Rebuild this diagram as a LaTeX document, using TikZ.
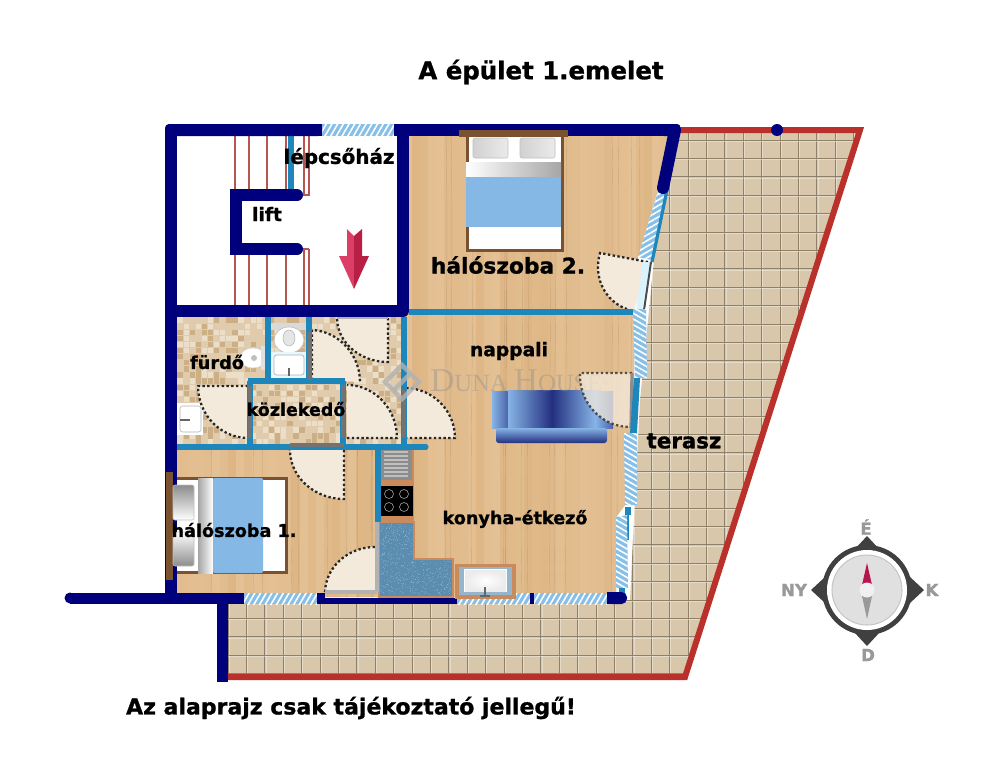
\documentclass[tikz,border=0pt]{standalone}
\usepackage{fontspec}
\setmainfont{DejaVu Sans}[BoldFeatures={FakeBold=1.1}]
\newfontfamily\wmfont{Liberation Serif}
\usetikzlibrary{calc,patterns.meta}
\definecolor{navywall}{HTML}{00007C}
\definecolor{bluewall}{HTML}{1D87BC}
\definecolor{redline}{HTML}{B9312A}
\definecolor{woodbase}{HTML}{DEB685}
\definecolor{woodlight}{HTML}{E8C9A0}
\definecolor{terrbase}{HTML}{D9C7AB}
\definecolor{terrline}{HTML}{8F8168}
\definecolor{tilebase}{HTML}{E0CCAC}
\definecolor{tiletan}{HTML}{CDAF85}
\definecolor{tilelight}{HTML}{EBDFCA}
\definecolor{winblue}{HTML}{86BFE8}
\definecolor{doorcream}{HTML}{F4EADC}
\definecolor{bedbrown}{HTML}{7A5230}
\definecolor{bedblue}{HTML}{85B8E5}
\definecolor{kitorange}{HTML}{C98A5C}
\definecolor{kitblue}{HTML}{5A8DB0}
\definecolor{stairred}{HTML}{B5574F}
\definecolor{compassdark}{HTML}{404040}
\definecolor{compassgray}{HTML}{999999}
\definecolor{needlered}{HTML}{B8144F}
\definecolor{sofalight}{HTML}{86B4E6}
\definecolor{sofadark}{HTML}{232F7F}
\definecolor{arrowlight}{HTML}{DC3E68}
\definecolor{arrowdark}{HTML}{B81F45}
\newcommand\fsz[1]{\fontsize{#1}{#1}\selectfont\bfseries}
\newcommand\hwin[2]{\path[preaction={fill=winblue},pattern={Lines[angle=#2,distance=3.7pt,line width=1.2pt]},pattern color=white] #1;}
\newcommand\doorshape[3]{\fill[doorcream] #1 -- #2 .. controls ($#2+0.55*#3-0.55*#1$) and ($#3+0.55*#2-0.55*#1$) .. #3 -- cycle;}
\newcommand\doorleaf[3]{\doorshape{#1}{#2}{#3}\draw[doordots] #1 -- #2 .. controls ($#2+0.55*#3-0.55*#1$) and ($#3+0.55*#2-0.55*#1$) .. #3;}
\newcommand\doorarc[3]{\doorshape{#1}{#2}{#3}\draw[doordots] #2 .. controls ($#2+0.55*#3-0.55*#1$) and ($#3+0.55*#2-0.55*#1$) .. #3;}
\tikzset{
  nwall/.style={draw=navywall,line width=9pt},
  bwall/.style={draw=bluewall,line width=3.8pt},
  doordots/.style={draw=black!85,line width=1.7pt,dash pattern=on 1.8pt off 1.8pt},
  stairline/.style={draw=stairred,line width=1.1pt},
  grayedge/.style={draw=black!55,line width=2.6pt},
  lilacedge/.style={draw=black!30!white,line width=2.6pt},
  lbl/.style={inner sep=0pt,text=black},
  compasslbl/.style={inner sep=0pt,text=compassgray,font=\fsz{12.5}},
}
\begin{document}
\begin{tikzpicture}[x=0.75pt,y=-0.75pt]
\useasboundingbox (0,0) rectangle (987,768);
\fill[white] (0,0) rectangle (987,768);
\pgfmathsetseed{4217}
% terrace
\begin{scope}
\clip (680,130) -- (860,130) -- (685,677) -- (228,677) -- (228,600) -- (630,600) -- (640,400) -- (660,200) -- cycle;
\fill[terrbase] (200,120) rectangle (880,690);
\foreach \k in {-26,...,10}{
  \pgfmathsetmacro\gx{688+18.4*\k}
  \draw[terrline,line width=0.7pt] (\gx,120) -- (\gx,690);
  \draw[white,opacity=.35,line width=0.5pt] (\gx+1.2,120) -- (\gx+1.2,690);
}
\foreach \k in {0,...,30}{
  \pgfmathsetmacro\gy{140+18.4*\k}
  \draw[terrline,line width=0.7pt] (200,\gy) -- (880,\gy);
  \draw[white,opacity=.35,line width=0.5pt] (200,\gy+1.2) -- (880,\gy+1.2);
}
\end{scope}
\draw[redline,line width=4.5pt,line join=miter] (680,130) -- (860,130) -- (685,677) -- (228,677);
% wood floor
\begin{scope}
\clip (405,136) -- (668,136) -- (660,183) -- (638,257) -- (634,310) -- (634,378) -- (632,433) -- (625,433) -- (625,505) -- (616,517) -- (616,597) -- (177,597) -- (177,445) -- (405,445) -- cycle;
\fill[woodbase] (170,130) rectangle (680,600);
\foreach \i in {0,...,63}{
  \pgfmathrandominteger{\rr}{0}{60}
  \pgfmathsetmacro\wx{172+8*\i}
  \fill[woodlight!\rr!woodbase] (\wx,130) rectangle (\wx+8,600);
}
\foreach \i in {0,...,30}{
  \pgfmathrandominteger{\wx}{175}{670}
  \draw[black!25!woodbase,line width=0.3pt,opacity=.4] (\wx,130) .. controls (\wx+3,300) and (\wx-3,450) .. (\wx,600);
}
\end{scope}
% bathroom tiles
\fill[tilebase] (177,317) rectangle (403,445);
\foreach \i in {0,...,36}{
  \foreach \j in {0,...,20}{
    \pgfmathrandominteger{\rr}{0}{9}
    \pgfmathsetmacro\tx{177+6.1*\i}
    \pgfmathsetmacro\ty{317+6.1*\j}
    \ifnum\rr<3\relax
      \fill[tiletan] (\tx+.4,\ty+.4) rectangle (\tx+5.7,\ty+5.7);
    \else\ifnum\rr<6\relax
      \fill[tilelight] (\tx+.4,\ty+.4) rectangle (\tx+5.7,\ty+5.7);
    \fi\fi
  }
}
% stairs
\foreach \sx in {235,249,267,286,304,309}{
  \draw[stairline] (\sx,136) -- (\sx,196);
  \draw[stairline] (\sx,249) -- (\sx,305);
}
\draw[stairline] (297,195) -- (309,195);
\draw[stairline] (297,249) -- (309,249);
\draw[bluewall,line width=3.8pt] (291,136) -- (291,190);
% red arrow
\fill[arrowlight] (347,229) -- (354,236) -- (354,289) -- (339,256) -- (347,256) -- cycle;
\fill[arrowdark] (362,229) -- (354,236) -- (354,289) -- (369,256) -- (362,256) -- cycle;
% bed 2
\fill[bedbrown] (465.5,137) rectangle (564,252);
\fill[white] (469,137) rectangle (561,249);
\draw[rounded corners=1.5pt,left color=black!18,right color=black!8,draw=black!25,line width=.4pt] (473,138) rectangle (508,158);
\draw[rounded corners=1.5pt,left color=black!18,right color=black!8,draw=black!25,line width=.4pt] (520,138) rectangle (555,158);
\shade[left color=white,right color=black!35] (466,162) rectangle (561,177);
\fill[bedblue] (466,177) rectangle (561,227);
% bed 1
\fill[bedbrown] (173,476.5) rectangle (288,574);
\fill[white] (177,480) rectangle (285,571);
\shade[left color=black!35,right color=white] (198,478) rectangle (213,573);
\fill[bedblue,rounded corners=1pt] (213,478) rectangle (263,573);
% kitchen
\fill[kitorange] (377,447) rectangle (414,482);
\fill[black!45] (380,450) rectangle (412,480);
\foreach \sy in {452,456,...,476}{\draw[black!25,line width=1pt] (384,\sy) -- (408,\sy);}
\fill[kitorange] (376,482) rectangle (414,522);
\fill[black] (381,486) rectangle (413,516);
\foreach \cx/\cy in {389/494,404/494,389/507,404/507}{\draw[white!70!black,line width=.4pt] (\cx,\cy) circle (4.5);}
\draw[kitorange,fill=kitblue,line width=2pt] (379,522) -- (414,522) -- (414,559) -- (453,559) -- (453,597) -- (379,597) -- cycle;
\begin{scope}
\clip (381,524) -- (412,524) -- (412,561) -- (451,561) -- (451,595) -- (381,595) -- cycle;
\foreach \i in {1,...,700}{
  \pgfmathrandominteger{\px}{381}{451}
  \pgfmathrandominteger{\py}{524}{595}
  \fill[white,opacity=.18] (\px,\py) rectangle (\px+1,\py+1);
}
\end{scope}
% bath fixtures
\fill[black!15] (272,323) rectangle (306,330);
\draw[fill=white,draw=black!25,line width=.5pt] (289,340) ellipse (15 and 13);
\draw[fill=black!10,draw=black!30,line width=.4pt] (289,338) ellipse (6 and 8);
\fill[cyan!10] (271,352) rectangle (307,379);
\draw[fill=white,draw=black!30,line width=.5pt,rounded corners=2pt] (274,355) rectangle (304,375);
\draw[black!60,line width=1.2pt] (289,368) -- (289,376);
\draw[fill=white,draw=black!15,line width=.4pt] (253,358) ellipse (13 and 10);
\fill[black!25] (254,358) circle (3);
\fill[black!12] (261,346) rectangle (266,370);
\fill[white] (177,403) rectangle (203,435);
\draw[black!30,line width=.4pt,rounded corners=2pt] (180,406) rectangle (201,432);
\draw[black!60,line width=1.2pt] (180,420) -- (190,420);
% sofa
\shade[left color=sofalight,right color=sofadark!60!sofalight] (492,391) rectangle (508,428);
\shade[left color=sofalight,right color=sofadark] (508,390) rectangle (552,428);
\shade[left color=sofadark,right color=sofalight] (552,390) rectangle (595,428);
\shade[left color=sofalight,right color=sofadark!60!sofalight] (595,391) rectangle (613,428);
\shade[rounded corners=2pt,top color=sofalight,bottom color=sofadark] (496,428) rectangle (607,443);
% watermark
\node (wm) [inner sep=0pt,anchor=west,text=white!55!black,opacity=.4] at (430,381) {\wmfont\fontsize{25}{25}\selectfont D\fontsize{18.5}{18.5}\selectfont UNA \fontsize{25}{25}\selectfont H\fontsize{18.5}{18.5}\selectfont OUSE\fontsize{7}{7}\selectfont\raisebox{1.5ex}{®}};
% doors
\doorleaf{(648,262)}{(600,253)}{(634,311)}
\doorleaf{(388,318)}{(388,362)}{(337,318)}
\doorleaf{(312,380)}{(312,330)}{(360,382)}
\doorleaf{(347,438)}{(397,438)}{(347,385)}
\doorleaf{(248,386)}{(198,386)}{(248,438)}
\doorleaf{(405,438)}{(455,438)}{(405,388)}
\doorleaf{(344,450)}{(344,499)}{(290,450)}
\doorarc{(375,593)}{(375,547)}{(325,593)}
\begin{scope}[opacity=.75]
\doorleaf{(632,373)}{(580,373)}{(630,427)}
\end{scope}
% blue walls
\draw[bwall] (409,312) -- (636,312);
\draw[bwall] (404,317) -- (404,447);
\draw[bwall] (177,447) -- (425,447);
\draw[bwall,line cap=round] (425,447) -- (426,447);
\draw[bwall] (268,317) -- (268,383);
\draw[bwall] (309,317) -- (309,383);
\draw[bwall] (248,381) -- (345,381);
\draw[bwall] (250,381) -- (250,447);
\draw[bwall] (343,381) -- (343,447);
\draw[bwall] (378,450) -- (378,522);
% wall edges at doors
\draw[grayedge] (309,332) -- (309,380);
\draw[grayedge] (290,445) -- (344,445);
\draw[grayedge] (250,386) -- (250,438);
\draw[grayedge] (404,390) -- (404,438);
\draw[grayedge] (343,385) -- (343,438);
\draw[lilacedge] (337,317) -- (388,317);
\draw[lilacedge] (325,592) -- (377,592);
\draw[lilacedge] (377,522) -- (377,592);
\draw[draw=black!45,line width=2.4pt] (632,373) -- (631,428);
% right side windows
\hwin{(660,185) -- (667,188) -- (652,260) -- (638,257) -- cycle}{30}
\draw[bluewall,line width=2.4pt] (667,190) -- (652,262);
\fill[cyan!15] (643,262) -- (650,262) -- (642,310) -- (636,310) -- cycle;
\draw[black!70,line width=1.5pt] (651,262) -- (644,310);
\hwin{(633,309) -- (646,309) -- (647,378) -- (635,378) -- cycle}{-30}
\fill[bluewall] (634,378) -- (640,378) -- (637,433) -- (630,433) -- cycle;
\hwin{(624,433) -- (637,433) -- (637,505) -- (625,505) -- cycle}{-30}
\fill[bluewall] (625,507) rectangle (631,515);
\draw[bluewall,line width=1.5pt] (628,515) -- (628,540);
\hwin{(616,517) -- (627,515) -- (628,588) -- (616,588) -- cycle}{-30}
\fill[bluewall] (619,588) rectangle (625,593);
% windows
\hwin{(322,124) rectangle (394,136)}{60}
\hwin{(244,593) rectangle (317,604)}{60}
\hwin{(457,593) rectangle (530,604)}{60}
\hwin{(534,593) rectangle (607,604)}{60}
% navy walls
\fill[navywall,rounded corners=3pt] (165,124) rectangle (322,136);
\fill[navywall] (316,124) rectangle (322,136);
\fill[navywall] (394,124) rectangle (676,136);
\draw[nwall,line cap=round] (675,130) -- (663,188);
\fill[navywall,rounded corners=3pt] (660,124) -- (681,124) -- (679,136) -- (660,136) -- cycle;
\draw[nwall] (171,130) -- (171,604);
\draw[nwall,line cap=round] (403,130) -- (403,311);
\draw[nwall] (171,311) -- (403,311);
\draw[nwall,line join=miter] (297,195) -- (235.5,195) -- (235.5,249) -- (297,249);
\fill[navywall] (297,195) circle (6);
\fill[navywall] (297,249) circle (6);
\fill[navywall] (70,592.5) rectangle (244,603.5);
\fill[navywall] (70,598) circle (5.5);
\fill[navywall] (217,598) rectangle (228,682);
\fill[navywall] (317,598) rectangle (457,604);
\fill[navywall] (317,593) rectangle (325,604);
\fill[navywall] (530,593) rectangle (534,604);
\fill[navywall,rounded corners=4pt] (607,592) -- (627,592) -- (627,604) -- (607,604) -- cycle;
\fill[navywall] (607,592) rectangle (615,604);
\fill[navywall] (777,130) circle (6);
% head boards and pillows over the walls
\fill[bedbrown] (459,130) rectangle (568,137);
\fill[bedbrown] (166,472) rectangle (173,580);
\draw[rounded corners=1.5pt,top color=black!45,bottom color=white,draw=black!25,line width=.4pt] (173,485) rectangle (194,520);
\draw[rounded corners=1.5pt,top color=white,bottom color=black!45,draw=black!25,line width=.4pt] (173,532) rectangle (194,566);
% kitchen sink over the wall
\fill[kitorange] (455,564) rectangle (516,599);
\fill[kitblue!65!white] (459,567) rectangle (512,595);
\fill[white] (464,569) rectangle (507,592);
\fill[inner color=white,outer color=black!8] (465,570) rectangle (506,591);
\draw[black!60,line width=1.2pt] (485,587) -- (485,596);
\draw[black!60,line width=.8pt] (480,596) -- (490,596);
% logo
\begin{scope}[opacity=.8,shift={(402,382)},rotate=45]
\draw[black!30,line width=3.4pt] (-12,-12) rectangle (12,12);
\draw[black!30,line width=3.4pt] (-12,0) -- (12,0);
\end{scope}
% compass
\fill[compassdark] (867,536) -- (880,550) -- (854,550) -- cycle;
\fill[compassdark] (867,646) -- (880,632) -- (854,632) -- cycle;
\fill[compassdark] (811,590) -- (825,577) -- (825,603) -- cycle;
\fill[compassdark] (924,590) -- (910,577) -- (910,603) -- cycle;
\fill[compassdark] (867,590) circle (45);
\fill[white] (867,590) circle (40);
\draw[fill=black!12,draw=black!22,line width=.8pt] (867,590) circle (35);
\fill[needlered] (867,563) -- (872,585) -- (862,585) -- cycle;
\fill[compassgray] (862,596) -- (872,596) -- (867,619) -- cycle;
\fill[black!6] (867,590) circle (7.5);
\node (cN) [compasslbl] at (866,527) {É};
\node (cW) [compasslbl] at (794,590) {NY};
\node (cE) [compasslbl] at (932,590) {K};
\node (cS) [compasslbl] at (868,655) {D};
% labels
\node (title) [lbl,font=\fsz{18.3}] at (541,72) {A épület 1.emelet};
\node (lepcso) [lbl,font=\fsz{14.9}] at (339,158) {lépcsőház};
\node (lift) [lbl,font=\fsz{14}] at (267,214) {lift};
\node (hal2) [lbl,font=\fsz{16.3}] at (508,265) {hálószoba 2.};
\node (napp) [lbl,font=\fsz{14}] at (509,351) {nappali};
\node (furdo) [lbl,font=\fsz{13.3}] at (217,362) {fürdő};
\node (kozl) [lbl,font=\fsz{13.1}] at (296,409) {közlekedő};
\node (hal1) [lbl,font=\fsz{13.2}] at (234,530) {hálószoba 1.};
\node (kony) [lbl,font=\fsz{13.2}] at (515,519) {konyha-étkező};
\node (ter) [lbl,font=\fsz{16}] at (684,441) {terasz};
\node (note) [lbl,font=\fsz{16.5}] at (351,708) {Az alaprajz csak tájékoztató jellegű!};
\end{tikzpicture}
\end{document}
